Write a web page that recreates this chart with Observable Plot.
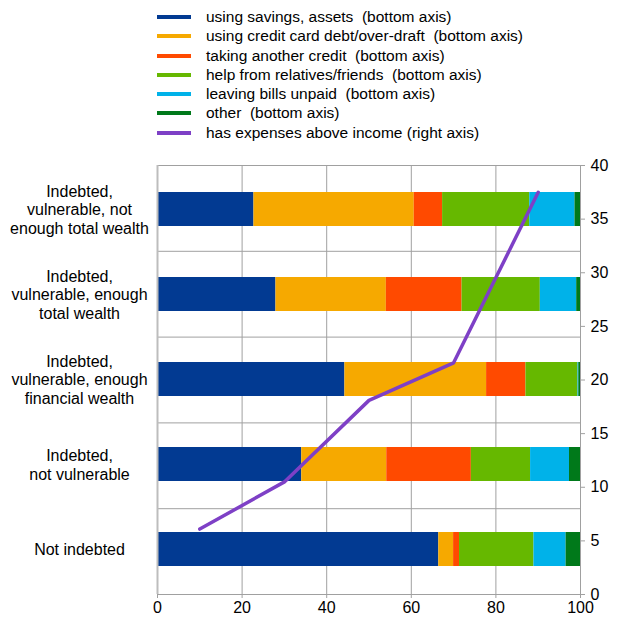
<!DOCTYPE html>
<html>
<head>
<meta charset="utf-8">
<script src="https://cdn.jsdelivr.net/npm/d3@7"></script>
<script src="https://cdn.jsdelivr.net/npm/@observablehq/plot@0.6"></script>
<style>
  html, body { margin: 0; padding: 0; background: #fff; }
  #root { position: relative; width: 629px; height: 624px; font-family: "Liberation Sans", Arial, sans-serif; font-size: 15.5px; color: #000; }
  #legend { position: absolute; left: 157px; top: 7px; }
  .row { position: relative; height: 19.3px; white-space: pre; }
  .sw { position: absolute; left: 0; top: 8px; width: 34px; height: 4px; }
  .lab { position: absolute; left: 49px; top: 0px; line-height: 19px; }
  .chart { position: absolute; left: 0; top: 150px; }
</style>
</head>
<body>
<div id="root">
  <div id="legend"></div>
  <div id="bars" class="chart"></div>
  <div id="line" class="chart"></div>
</div>
<script>
// ---- data ----
const categories = [
  "Indebted,\nvulnerable, not\nenough total wealth",
  "Indebted,\nvulnerable, enough\ntotal wealth",
  "Indebted,\nvulnerable, enough\nfinancial wealth",
  "Indebted,\nnot vulnerable",
  "Not indebted"
];
const seriesNames = [
  "using savings, assets",
  "using credit card debt/over-draft",
  "taking another credit",
  "help from relatives/friends",
  "leaving bills unpaid",
  "other"
];
const lineName = "has expenses above income";
const savings      = [22.8, 28.0, 44.3, 34.1, 66.5];
const creditCard   = [37.9, 26.1, 33.5, 20.1,  3.5];
const otherCredit  = [ 6.7, 17.9,  9.3, 20.0,  1.4];
const relatives    = [20.6, 18.5, 12.3, 14.0, 17.6];
const billsUnpaid  = [10.7,  8.6,  0.2,  9.2,  7.6];
const other        = [ 1.3,  0.9,  0.4,  2.6,  3.4];
const expensesAboveIncome = [37.5, 21.6, 18.1, 10.5, 6.1];
const xTicks = [0, 20, 40, 60, 80, 100];
const yRightTicks = [0, 5, 10, 15, 20, 25, 30, 35, 40];

const colors = ["#023a92", "#f6a900", "#ff4a00", "#66b800", "#00b2e9", "#00791a"];
const lineColor = "#7e40c6";
const gridColor = "#a0a0a0";

// ---- build tables ----
const seriesValues = [savings, creditCard, otherCredit, relatives, billsUnpaid, other];
const rows = [];
categories.forEach((c, i) => seriesNames.forEach((s, j) => rows.push({category: c, series: s, value: seriesValues[j][i]})));

// line points placed at category positions spread along the bottom axis (bottom category first)
const catPoint = d3.scalePoint().domain(categories.slice().reverse()).range([0, 100]).padding(0.5);
const lineData = categories.map((c, i) => ({x: catPoint(c), y: expensesAboveIncome[i]}));
const boundaries = d3.range(categories.length + 1).map(i => i * 40 / categories.length);

// ---- legend ----
const legend = document.getElementById("legend");
seriesNames.map((s, j) => [s + "  (bottom axis)", colors[j]])
  .concat([[lineName + " (right axis)", lineColor]])
  .forEach(([t, c]) => {
    const r = document.createElement("div"); r.className = "row";
    const sw = document.createElement("div"); sw.className = "sw"; sw.style.background = c;
    const lb = document.createElement("div"); lb.className = "lab"; lb.textContent = t;
    r.appendChild(sw); r.appendChild(lb); legend.appendChild(r);
  });

const common = {
  width: 629, height: 474,
  marginTop: 15, marginRight: 49, marginBottom: 30, marginLeft: 157,
  style: {fontFamily: "'Liberation Sans', Arial, sans-serif", fontSize: "16px", color: "#000", background: "transparent", overflow: "visible"}
};

const barPlot = Plot.plot({
  ...common,
  x: {domain: [0, 100], label: null},
  y: {domain: categories, paddingInner: 0.6, paddingOuter: 0.3, label: null},
  color: {domain: seriesNames, range: colors},
  marks: [
    Plot.gridX(xTicks.slice(1, -1), {stroke: gridColor, strokeOpacity: 1}),
    Plot.barX(rows, {y: "category", x: "value", fill: "series"}),
    Plot.axisX(xTicks, {tickSize: 4, tickPadding: 3, label: null, stroke: gridColor, fill: "#000"}),
    Plot.axisY({tickSize: 0, tickPadding: 78, textAnchor: "middle", lineHeight: 1.16, label: null, fill: "#000"})
  ]
});
document.getElementById("bars").appendChild(barPlot);

const linePlot = Plot.plot({
  ...common,
  x: {domain: [0, 100], axis: null},
  y: {domain: [0, 40], label: null, axis: null},
  marks: [
    Plot.ruleY(boundaries, {stroke: gridColor}),
    Plot.ruleX([0], {stroke: "#bdbdbd", strokeWidth: 2}),
    Plot.ruleX([100], {stroke: gridColor}),
    Plot.axisY(yRightTicks, {anchor: "right", tickSize: 4, tickPadding: 6, label: null, stroke: gridColor, fill: "#000"}),
    Plot.line(lineData, {x: "x", y: "y", stroke: lineColor, strokeWidth: 3.5})
  ]
});
document.getElementById("line").appendChild(linePlot);
</script>
</body>
</html>
